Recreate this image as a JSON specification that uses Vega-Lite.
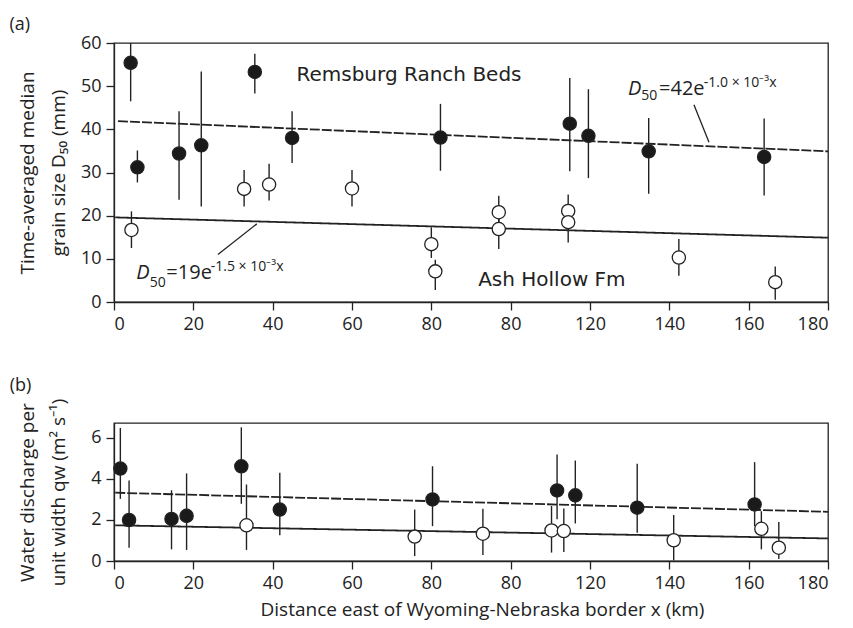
{
  "$schema": "https://vega.github.io/schema/vega-lite/v6.json",
  "padding": {"left": 8, "top": 15, "right": 12, "bottom": 5},
  "background": "white",
  "config": {
    "font": "Open Sans",
    "view": {"stroke": "#222", "strokeWidth": 1.3},
    "axis": {"grid": false, "domainColor": "#222", "domainWidth": 1.3, "tickColor": "#222", "tickWidth": 1.3, "tickSize": 8,
      "labelFont": "Open Sans", "labelFontSize": 18, "labelColor": "#222", "labelPadding": 5,
      "titleFont": "Open Sans", "titleFontSize": 19, "titleFontWeight": "normal", "titleColor": "#222", "titleLineHeight": 31},
    "title": {"font": "Open Sans", "fontSize": 18, "fontWeight": "normal", "color": "#222", "anchor": "start"}
  },
  "datasets": {
    "pts": [
      {"panel": "a", "group": "Remsburg Ranch Beds", "x": 4.2, "y": 55.4, "lo": 46.5, "hi": 60.0},
      {"panel": "a", "group": "Remsburg Ranch Beds", "x": 5.9, "y": 31.2, "lo": 27.7, "hi": 35.1},
      {"panel": "a", "group": "Remsburg Ranch Beds", "x": 16.4, "y": 34.4, "lo": 23.7, "hi": 44.2},
      {"panel": "a", "group": "Remsburg Ranch Beds", "x": 22.0, "y": 36.3, "lo": 22.1, "hi": 53.4},
      {"panel": "a", "group": "Remsburg Ranch Beds", "x": 35.5, "y": 53.3, "lo": 48.3, "hi": 57.5},
      {"panel": "a", "group": "Remsburg Ranch Beds", "x": 44.9, "y": 38.0, "lo": 32.2, "hi": 44.2},
      {"panel": "a", "group": "Remsburg Ranch Beds", "x": 82.3, "y": 38.1, "lo": 30.4, "hi": 45.9},
      {"panel": "a", "group": "Remsburg Ranch Beds", "x": 114.9, "y": 41.3, "lo": 30.3, "hi": 51.9},
      {"panel": "a", "group": "Remsburg Ranch Beds", "x": 119.6, "y": 38.5, "lo": 28.7, "hi": 49.3},
      {"panel": "a", "group": "Remsburg Ranch Beds", "x": 134.8, "y": 34.9, "lo": 25.1, "hi": 42.6},
      {"panel": "a", "group": "Remsburg Ranch Beds", "x": 163.9, "y": 33.6, "lo": 24.7, "hi": 42.5},
      {"panel": "a", "group": "Ash Hollow Fm", "x": 4.4, "y": 16.7, "lo": 12.5, "hi": 21.0},
      {"panel": "a", "group": "Ash Hollow Fm", "x": 32.8, "y": 26.2, "lo": 22.1, "hi": 30.6},
      {"panel": "a", "group": "Ash Hollow Fm", "x": 39.1, "y": 27.2, "lo": 23.5, "hi": 32.0},
      {"panel": "a", "group": "Ash Hollow Fm", "x": 60.0, "y": 26.3, "lo": 22.1, "hi": 30.6},
      {"panel": "a", "group": "Ash Hollow Fm", "x": 80.0, "y": 13.4, "lo": 10.2, "hi": 17.3},
      {"panel": "a", "group": "Ash Hollow Fm", "x": 81.0, "y": 7.1, "lo": 2.8, "hi": 9.8},
      {"panel": "a", "group": "Ash Hollow Fm", "x": 97.0, "y": 20.8, "lo": 17.0, "hi": 24.6},
      {"panel": "a", "group": "Ash Hollow Fm", "x": 97.0, "y": 16.9, "lo": 12.3, "hi": 20.5},
      {"panel": "a", "group": "Ash Hollow Fm", "x": 114.5, "y": 21.1, "lo": 18.0, "hi": 24.9},
      {"panel": "a", "group": "Ash Hollow Fm", "x": 114.5, "y": 18.5, "lo": 13.8, "hi": 21.0},
      {"panel": "a", "group": "Ash Hollow Fm", "x": 142.4, "y": 10.3, "lo": 6.1, "hi": 14.6},
      {"panel": "a", "group": "Ash Hollow Fm", "x": 166.7, "y": 4.6, "lo": 0.5, "hi": 8.2},
      {"panel": "b", "group": "Remsburg Ranch Beds", "x": 1.6, "y": 4.51, "lo": 3.03, "hi": 6.49},
      {"panel": "b", "group": "Remsburg Ranch Beds", "x": 3.8, "y": 2.0, "lo": 0.65, "hi": 3.93},
      {"panel": "b", "group": "Remsburg Ranch Beds", "x": 14.5, "y": 2.05, "lo": 0.57, "hi": 3.45},
      {"panel": "b", "group": "Remsburg Ranch Beds", "x": 18.3, "y": 2.2, "lo": 0.54, "hi": 4.27},
      {"panel": "b", "group": "Remsburg Ranch Beds", "x": 32.1, "y": 4.62, "lo": 2.79, "hi": 6.52},
      {"panel": "b", "group": "Remsburg Ranch Beds", "x": 41.8, "y": 2.51, "lo": 1.26, "hi": 4.30},
      {"panel": "b", "group": "Remsburg Ranch Beds", "x": 80.3, "y": 3.0, "lo": 1.70, "hi": 4.62},
      {"panel": "b", "group": "Remsburg Ranch Beds", "x": 111.7, "y": 3.44, "lo": 2.03, "hi": 5.19},
      {"panel": "b", "group": "Remsburg Ranch Beds", "x": 116.3, "y": 3.2, "lo": 1.83, "hi": 4.90},
      {"panel": "b", "group": "Remsburg Ranch Beds", "x": 131.9, "y": 2.6, "lo": 1.38, "hi": 4.74},
      {"panel": "b", "group": "Remsburg Ranch Beds", "x": 161.5, "y": 2.76, "lo": 1.7, "hi": 4.82},
      {"panel": "b", "group": "Ash Hollow Fm", "x": 33.4, "y": 1.74, "lo": 0.54, "hi": 3.73},
      {"panel": "b", "group": "Ash Hollow Fm", "x": 75.8, "y": 1.19, "lo": 0.24, "hi": 2.51},
      {"panel": "b", "group": "Ash Hollow Fm", "x": 93.0, "y": 1.33, "lo": 0.29, "hi": 2.55},
      {"panel": "b", "group": "Ash Hollow Fm", "x": 110.3, "y": 1.49, "lo": 0.41, "hi": 2.68},
      {"panel": "b", "group": "Ash Hollow Fm", "x": 113.4, "y": 1.46, "lo": 0.44, "hi": 2.56},
      {"panel": "b", "group": "Ash Hollow Fm", "x": 141.1, "y": 1.01, "lo": 0.03, "hi": 2.24},
      {"panel": "b", "group": "Ash Hollow Fm", "x": 163.2, "y": 1.57, "lo": 0.57, "hi": 2.43},
      {"panel": "b", "group": "Ash Hollow Fm", "x": 167.6, "y": 0.65, "lo": 0.1, "hi": 1.90}
    ],
    "fits": [
      {"panel": "a", "fit": "dashed", "x": 1.0, "y": 41.9},
      {"panel": "a", "fit": "dashed", "x": 180, "y": 34.9},
      {"panel": "a", "fit": "solid", "x": 0.3, "y": 19.6},
      {"panel": "a", "fit": "solid", "x": 180, "y": 14.9},
      {"panel": "b", "fit": "dashed", "x": 0.3, "y": 3.33},
      {"panel": "b", "fit": "dashed", "x": 180, "y": 2.40},
      {"panel": "b", "fit": "solid", "x": 0.3, "y": 1.74},
      {"panel": "b", "fit": "solid", "x": 180, "y": 1.10}
    ],
    "leaders": [
      {"panel": "a", "x": 26.2, "y": 11.0, "x2": 36.0, "y2": 18.1},
      {"panel": "a", "x": 146.2, "y": 45.7, "x2": 150.0, "y2": 37.0}
    ],
    "notes": [
      {"panel": "a", "kind": "label", "x": 46.0, "y": 51.1, "text": "Remsburg Ranch Beds"},
      {"panel": "a", "kind": "label", "x": 91.8, "y": 3.6, "text": "Ash Hollow Fm"},
      {"panel": "a", "kind": "it", "x": 129.6, "y": 48.0, "text": "D"},
      {"panel": "a", "kind": "small", "x": 132.9, "y": 46.9, "text": "50"},
      {"panel": "a", "kind": "main", "x": 137.4, "y": 48.0, "text": "=42e"},
      {"panel": "a", "kind": "small", "x": 148.7, "y": 49.9, "text": "-1.0 × 10⁻³x"},
      {"panel": "a", "kind": "it", "x": 5.6, "y": 5.3, "text": "D"},
      {"panel": "a", "kind": "small", "x": 9.0, "y": 3.5, "text": "50"},
      {"panel": "a", "kind": "main", "x": 13.2, "y": 5.3, "text": "=19e"},
      {"panel": "a", "kind": "small", "x": 24.4, "y": 7.1, "text": "-1.5 × 10⁻³x"}
    ]
  },
  "spacing": 42,
  "vconcat": [
    {
      "width": 714, "height": 259,
      "title": {"text": "(a)", "dx": -9, "offset": 0},
      "encoding": {
        "x": {"field": "x", "type": "quantitative", "scale": {"domain": [0, 180], "nice": false},
          "axis": {"values": [0, 20, 40, 60, 80, 100, 120, 140, 160, 180], "title": null, "labelExpr": "datum.value == 100 ? '80' : datum.label"}}
      },
      "layer": [
        {
          "data": {"name": "pts"},
          "transform": [{"filter": "datum.panel == 'a'"}],
          "mark": {"type": "rule", "color": "#222", "strokeWidth": 1.4},
          "encoding": {"y": {"field": "lo", "type": "quantitative", "scale": {"domain": [0, 60], "nice": false},
              "axis": {"values": [0, 10, 20, 30, 40, 50, 60], "title": ["Time-averaged median", "grain size D₅₀ (mm)"], "titlePadding": 12}},
            "y2": {"field": "hi"}}
        },
        {
          "data": {"name": "fits"},
          "transform": [{"filter": "datum.panel == 'a'"}],
          "mark": {"type": "line", "color": "#222", "strokeWidth": 1.8},
          "encoding": {"y": {"field": "y", "type": "quantitative"},
            "strokeDash": {"field": "fit", "type": "nominal", "scale": {"domain": ["dashed", "solid"], "range": [[10, 2], [1, 0]]}, "legend": null}}
        },
        {
          "data": {"name": "leaders"},
          "transform": [{"filter": "datum.panel == 'a'"}],
          "mark": {"type": "rule", "color": "#222", "strokeWidth": 1.3},
          "encoding": {"y": {"field": "y", "type": "quantitative"}, "x2": {"field": "x2"}, "y2": {"field": "y2"}}
        },
        {
          "data": {"name": "pts"},
          "transform": [{"filter": "datum.panel == 'a'"}],
          "mark": {"type": "point", "shape": "circle", "filled": true, "size": 175, "stroke": "#222", "strokeWidth": 1.3, "opacity": 1},
          "encoding": {"y": {"field": "y", "type": "quantitative"},
            "fill": {"field": "group", "type": "nominal", "scale": {"domain": ["Remsburg Ranch Beds", "Ash Hollow Fm"], "range": ["#1a1a1a", "white"]}, "legend": null}}
        },
        {
          "data": {"name": "notes"},
          "transform": [{"filter": "datum.panel == 'a' && datum.kind == 'label'"}],
          "mark": {"type": "text", "align": "left", "baseline": "alphabetic", "font": "DejaVu Sans", "fontSize": 20, "color": "#222"},
          "encoding": {"y": {"field": "y", "type": "quantitative"}, "text": {"field": "text"}}
        },
        {
          "data": {"name": "notes"},
          "transform": [{"filter": "datum.panel == 'a' && datum.kind == 'it'"}],
          "mark": {"type": "text", "align": "left", "baseline": "alphabetic", "fontSize": 20, "fontStyle": "italic", "color": "#222"},
          "encoding": {"y": {"field": "y", "type": "quantitative"}, "text": {"field": "text"}}
        },
        {
          "data": {"name": "notes"},
          "transform": [{"filter": "datum.panel == 'a' && datum.kind == 'main'"}],
          "mark": {"type": "text", "align": "left", "baseline": "alphabetic", "fontSize": 20, "color": "#222"},
          "encoding": {"y": {"field": "y", "type": "quantitative"}, "text": {"field": "text"}}
        },
        {
          "data": {"name": "notes"},
          "transform": [{"filter": "datum.panel == 'a' && datum.kind == 'small'"}],
          "mark": {"type": "text", "align": "left", "baseline": "alphabetic", "fontSize": 14, "color": "#222"},
          "encoding": {"y": {"field": "y", "type": "quantitative"}, "text": {"field": "text"}}
        }
      ]
    },
    {
      "width": 714, "height": 138,
      "title": {"text": "(b)", "dx": -9, "offset": 3},
      "encoding": {
        "x": {"field": "x", "type": "quantitative", "scale": {"domain": [0, 180], "nice": false},
          "axis": {"values": [0, 20, 40, 60, 80, 100, 120, 140, 160, 180], "title": "Distance  east of Wyoming-Nebraska border x (km)", "titlePadding": 8, "titleX": 368, "labelExpr": "datum.value == 100 ? '80' : datum.label"}}
      },
      "layer": [
        {
          "data": {"name": "pts"},
          "transform": [{"filter": "datum.panel == 'b'"}],
          "mark": {"type": "rule", "color": "#222", "strokeWidth": 1.4},
          "encoding": {"y": {"field": "lo", "type": "quantitative", "scale": {"domain": [0, 6.73], "nice": false},
              "axis": {"values": [0, 2, 4, 6], "title": ["Water discharge per", "unit width qw (m² s⁻¹)"], "titlePadding": 22}},
            "y2": {"field": "hi"}}
        },
        {
          "data": {"name": "fits"},
          "transform": [{"filter": "datum.panel == 'b'"}],
          "mark": {"type": "line", "color": "#222", "strokeWidth": 1.8},
          "encoding": {"y": {"field": "y", "type": "quantitative"},
            "strokeDash": {"field": "fit", "type": "nominal", "scale": {"domain": ["dashed", "solid"], "range": [[10, 2], [1, 0]]}, "legend": null}}
        },
        {
          "data": {"name": "pts"},
          "transform": [{"filter": "datum.panel == 'b'"}],
          "mark": {"type": "point", "shape": "circle", "filled": true, "size": 175, "stroke": "#222", "strokeWidth": 1.3, "opacity": 1},
          "encoding": {"y": {"field": "y", "type": "quantitative"},
            "fill": {"field": "group", "type": "nominal", "scale": {"domain": ["Remsburg Ranch Beds", "Ash Hollow Fm"], "range": ["#1a1a1a", "white"]}, "legend": null}}
        }
      ]
    }
  ]
}
